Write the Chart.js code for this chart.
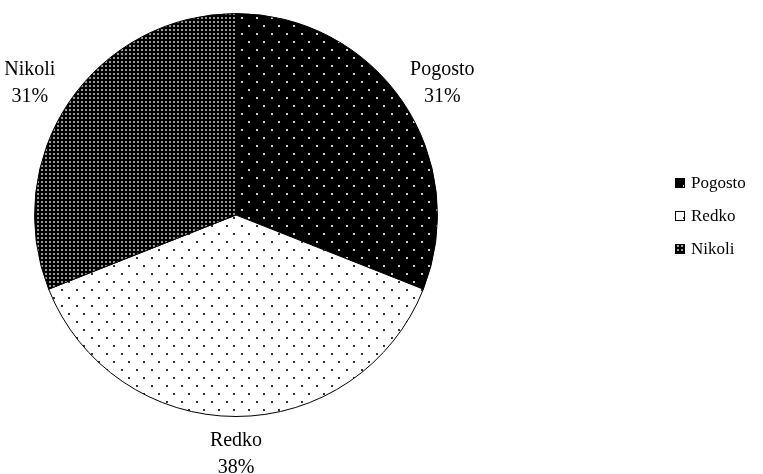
<!DOCTYPE html>
<html lang="sl">
  <head>
    <title>Pogostost</title>
    <style>
      body { margin: 0; background: #fff; }
      #wrap { width: 763px; height: 474px; }
    </style>
  </head>
  <body>
    <div id="wrap">
      <canvas id="myChart" width="763" height="474"></canvas>
    </div>

    <script src="https://cdn.jsdelivr.net/npm/chart.js"></script>

    <script>
      // data
      const labels = ["Pogosto", "Redko", "Nikoli"];
      const values = [31, 38, 31];
      const percentLabels = ["31%", "38%", "31%"];

      const serif = "'Liberation Serif', 'Times New Roman', serif";

      // dotted fills
      function makePattern(bg, fg, w, h, dots, size) {
        const c = document.createElement("canvas");
        c.width = w;
        c.height = h;
        const g = c.getContext("2d");
        g.fillStyle = bg;
        g.fillRect(0, 0, w, h);
        g.fillStyle = fg;
        dots.forEach((d) => g.fillRect(d[0], d[1], size, size));
        return g.createPattern(c, "repeat");
      }

      const ctx = document.getElementById("myChart");
      const patterns = [
        makePattern("#000", "#ccc", 15, 16, [[1, 1], [8, 9]], 2),
        makePattern("#fff", "#333", 15, 16, [[1, 1], [8, 9]], 2),
        makePattern("#000", "#999", 4, 4, [[1, 1]], 2),
      ];

      // labels outside the slices + legend on the right
      const extras = {
        id: "extras",
        afterDraw(chart) {
          const c = chart.ctx;
          const arcs = chart.getDatasetMeta(0).data;
          c.save();
          c.fillStyle = "#000";
          c.textAlign = "center";
          c.textBaseline = "middle";
          c.font = "20px " + serif;
          arcs.forEach((arc, i) => {
            const mid = (arc.startAngle + arc.endAngle) / 2;
            const d = arc.outerRadius + 36;
            const x = arc.x + Math.cos(mid) * d * 1.05;
            const y = arc.y + Math.sin(mid) * d;
            c.fillText(labels[i], x, y - 12);
            c.fillText(percentLabels[i], x, y + 15);
          });

          c.textAlign = "left";
          c.font = "17px " + serif;
          labels.forEach((lab, i) => {
            const y = 183 + i * 33;
            c.fillStyle = patterns[i];
            c.fillRect(675, y - 5, 10, 10);
            c.strokeStyle = "#000";
            c.lineWidth = 1;
            c.strokeRect(675.5, y - 4.5, 9, 9);
            c.fillStyle = "#000";
            c.fillText(lab, 691, y + 1);
          });
          c.restore();
        },
      };

      new Chart(ctx, {
        type: "pie",
        data: {
          labels: labels,
          datasets: [
            {
              data: values,
              backgroundColor: patterns,
              borderColor: "#000",
              borderWidth: 1,
            },
          ],
        },
        options: {
          responsive: false,
          animation: false,
          layout: {
            padding: { left: 34, right: 325, top: 13, bottom: 57 },
          },
          plugins: {
            legend: { display: false },
            tooltip: { enabled: false },
          },
        },
        plugins: [extras],
      });
    </script>
  </body>
</html>
